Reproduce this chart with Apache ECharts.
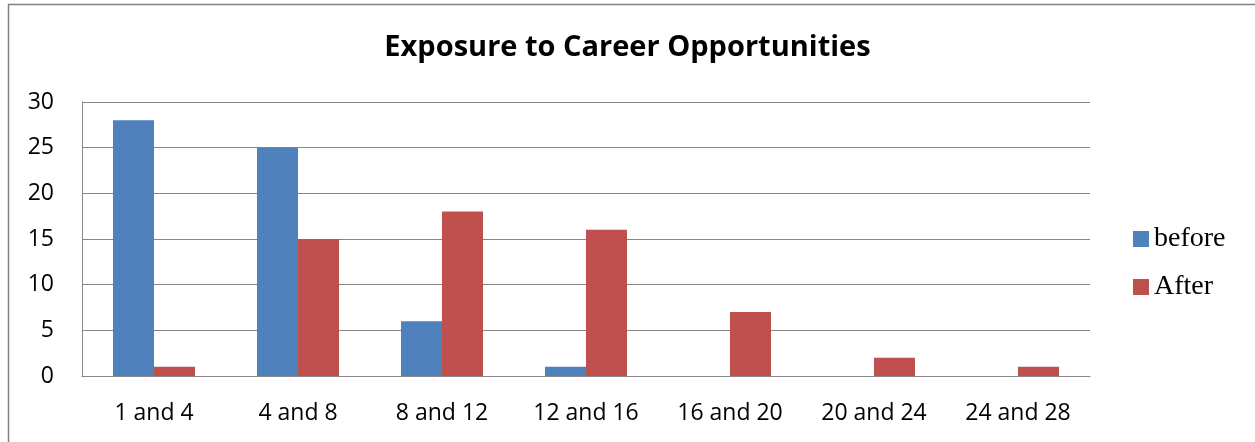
<!DOCTYPE html>
<html>
<head>
<meta charset="utf-8">
<script src="https://cdn.jsdelivr.net/npm/echarts@6/dist/echarts.min.js"></script>
<style>
  html, body { margin: 0; padding: 0; background: #fff; }
  #chart { width: 1255px; height: 442px; }
</style>
</head>
<body>
<div id="chart"></div>
<script>
const categories = ['1 and 4', '4 and 8', '8 and 12', '12 and 16', '16 and 20', '20 and 24', '24 and 28']
const before = [28, 25, 6, 1, 0, 0, 0]
const after = [1, 15, 18, 16, 7, 2, 1]

const chart = echarts.init(document.getElementById('chart'))

chart.setOption({
  animation: false,
  backgroundColor: '#fff',
  title: {
    text: 'Exposure to Career Opportunities',
    left: 'center',
    top: 28,
    textStyle: { fontFamily: 'Open Sans', fontWeight: 'bold', fontSize: 29, color: '#000' }
  },
  graphic: [{
    type: 'polyline',
    shape: { points: [[8.5, 442], [8.5, 4.5], [1255, 4.5]] },
    style: { stroke: '#808080', lineWidth: 1.5, fill: null }
  }],
  legend: {
    orient: 'vertical',
    left: 1128,
    top: 220,
    itemWidth: 16,
    itemHeight: 16,
    itemGap: 20,
    icon: 'rect',
    textStyle: { fontFamily: 'Liberation Serif', fontSize: 28, color: '#000' }
  },
  grid: { left: 82, right: 165, top: 102, bottom: 66 },
  xAxis: {
    type: 'category',
    data: categories,
    axisLine: { lineStyle: { color: '#868686' } },
    axisTick: { show: false },
    axisLabel: { fontFamily: 'Open Sans', fontSize: 23, color: '#000', margin: 26 }
  },
  yAxis: {
    type: 'value',
    min: 0,
    max: 30,
    interval: 5,
    axisLine: { show: true, lineStyle: { color: '#868686' } },
    axisTick: { show: false },
    splitLine: { lineStyle: { color: '#868686' } },
    axisLabel: { fontFamily: 'Open Sans', fontSize: 23, color: '#000', margin: 28 }
  },
  series: [
    { name: 'before', type: 'bar', data: before, barWidth: 41, barGap: '0%', itemStyle: { color: '#4F81BD' } },
    { name: 'After', type: 'bar', data: after, barWidth: 41, barGap: '0%', itemStyle: { color: '#C0504D' } }
  ]
})
</script>
</body>
</html>
